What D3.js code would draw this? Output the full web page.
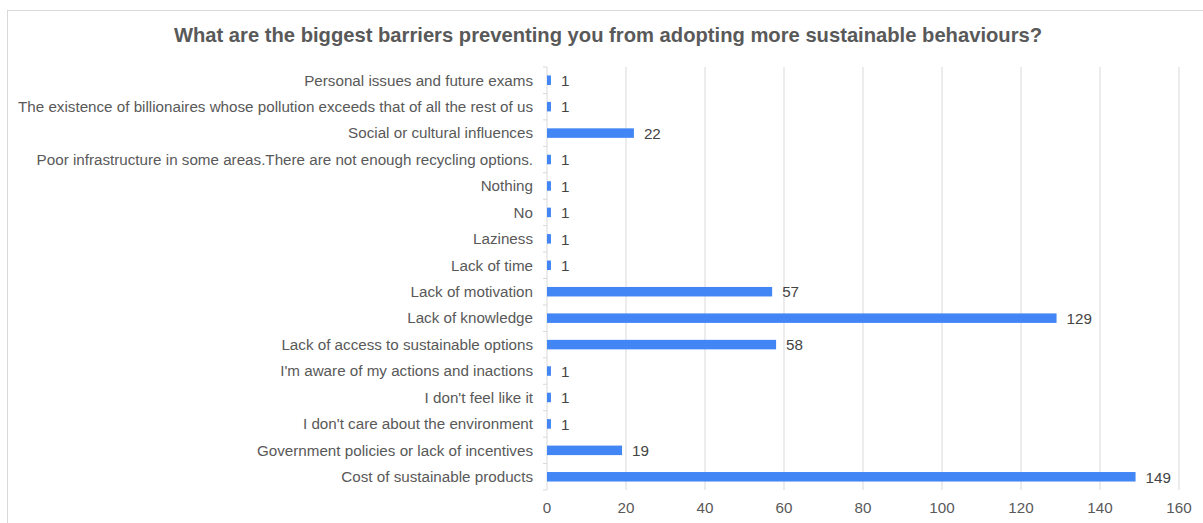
<!DOCTYPE html>
<html>
<head>
<meta charset="utf-8">
<script src="https://cdn.jsdelivr.net/npm/d3@7"></script>
<style>
  body { margin: 0; background: #fff; }
  svg { display: block; font-family: "Liberation Sans", Arial, sans-serif; }
</style>
</head>
<body>
<svg id="chart" width="1203" height="523"></svg>
<script>
// categories listed top to bottom as shown
const categories = [
  "Personal issues and future exams",
  "The existence of billionaires whose pollution exceeds that of all the rest of us",
  "Social or cultural influences",
  "Poor infrastructure in some areas.There are not enough recycling options.",
  "Nothing",
  "No",
  "Laziness",
  "Lack of time",
  "Lack of motivation",
  "Lack of knowledge",
  "Lack of access to sustainable options",
  "I'm aware of my actions and inactions",
  "I don't feel like it",
  "I don't care about the environment",
  "Government policies or lack of incentives",
  "Cost of sustainable products"
];
const counts = [1, 1, 22, 1, 1, 1, 1, 1, 57, 129, 58, 1, 1, 1, 19, 149];
const xTicks = [0, 20, 40, 60, 80, 100, 120, 140, 160];

const svg = d3.select("#chart");

// frame
svg.append("rect")
  .attr("x", 7.5).attr("y", 10.5)
  .attr("width", 1210).attr("height", 530)
  .attr("fill", "none").attr("stroke", "#d9d9d9");

svg.append("text")
  .attr("x", 608).attr("y", 42)
  .attr("text-anchor", "middle")
  .attr("font-size", 20.2).attr("font-weight", "bold")
  .attr("fill", "#595959")
  .text("What are the biggest barriers preventing you from adopting more sustainable behaviours?");

const x = d3.scaleLinear().domain([0, 160]).range([547, 1179]);
const y = d3.scaleBand().domain(categories).range([67, 490]);

// gridlines
svg.append("g").selectAll("line")
  .data(xTicks.filter(d => d > 0))
  .join("line")
  .attr("x1", d => x(d)).attr("x2", d => x(d))
  .attr("y1", 67).attr("y2", 490)
  .attr("stroke", "#d9d9d9");

// category axis with tick marks at band edges
svg.append("line")
  .attr("x1", 547).attr("x2", 547)
  .attr("y1", 67).attr("y2", 490)
  .attr("stroke", "#d9d9d9");
svg.append("g").selectAll("line")
  .data(categories.map(c => y(c)).concat([490]))
  .join("line")
  .attr("x1", 543).attr("x2", 547)
  .attr("y1", d => d).attr("y2", d => d)
  .attr("stroke", "#d9d9d9");

svg.append("g").selectAll("text")
  .data(categories)
  .join("text")
  .attr("x", 533)
  .attr("y", d => y(d) + y.bandwidth() / 2)
  .attr("dy", "0.35em")
  .attr("text-anchor", "end")
  .attr("font-size", 15.2)
  .attr("fill", "#595959")
  .text(d => d);

// value axis labels
svg.append("g").selectAll("text")
  .data(xTicks)
  .join("text")
  .attr("x", d => x(d))
  .attr("y", 513)
  .attr("text-anchor", "middle")
  .attr("font-size", 15.2)
  .attr("fill", "#595959")
  .text(d => d);

// bars
const barH = 9.5;
svg.append("g").selectAll("rect")
  .data(categories)
  .join("rect")
  .attr("x", x(0))
  .attr("y", d => y(d) + y.bandwidth() / 2 - barH / 2)
  .attr("width", (d, i) => x(counts[i]) - x(0))
  .attr("height", barH)
  .attr("fill", "#4285f4");

svg.append("g").selectAll("text")
  .data(categories)
  .join("text")
  .attr("x", (d, i) => x(counts[i]) + 10)
  .attr("y", d => y(d) + y.bandwidth() / 2)
  .attr("dy", "0.38em")
  .attr("font-size", 15.2)
  .attr("fill", "#444")
  .text((d, i) => counts[i]);
</script>
</body>
</html>
